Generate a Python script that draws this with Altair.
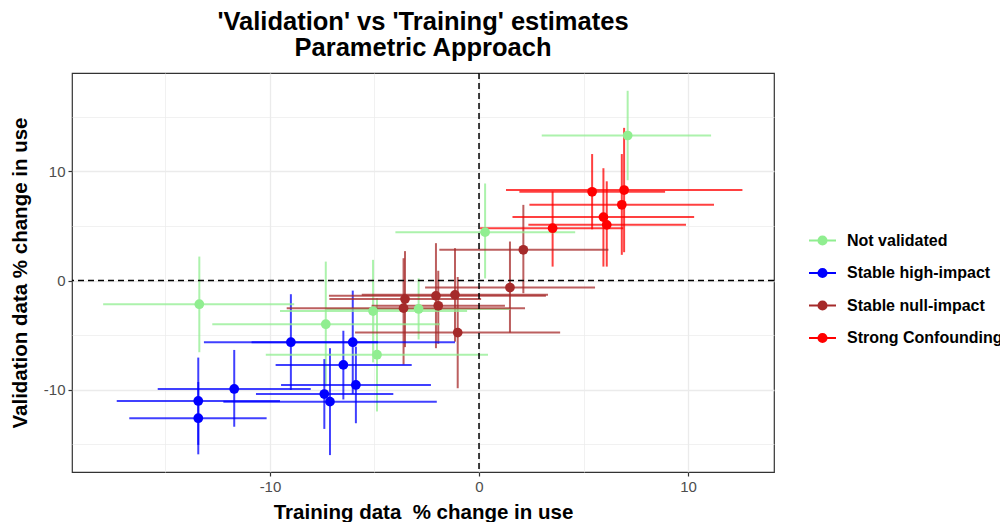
import altair as alt
import pandas as pd

groups = ["Not validated", "Stable high-impact", "Stable null-impact", "Strong Confounding"]
colors = ["#90EE90", "#0000FF", "#A52A2A", "#FF0000"]

# Not validated
nv_x = [7.11, 0.29, -13.38, -7.33, -5.07, -2.89, -4.88]
nv_y = [13.3, 4.44, -2.17, -4.0, -2.8, -2.6, -6.8]
nv_xlo = [3.0, -4.0, -17.98, -12.76, -9.52, -7.3, -10.2]
nv_xhi = [11.1, 4.6, -8.84, -1.87, -0.57, 1.5, 0.43]
nv_ylo = [9.2, 0.2, -6.57, -9.7, -7.5, -5.4, -12.0]
nv_yhi = [17.4, 8.9, 2.2, 1.74, 1.9, 0.2, -1.6]

# Stable high-impact
hi_x = [-13.43, -13.43, -11.71, -9.0, -6.04, -6.49, -5.89, -7.4, -7.13]
hi_y = [-11.04, -12.62, -9.94, -5.65, -5.65, -7.73, -9.57, -10.4, -11.1]
hi_xlo = [-17.33, -16.73, -15.37, -13.16, -10.88, -9.73, -9.47, -10.67, -12.23]
hi_xhi = [-9.52, -10.16, -8.05, -4.83, -1.15, -3.22, -2.3, -4.1, -2.02]
hi_ylo = [-15.07, -15.93, -13.4, -10.03, -10.38, -10.9, -13.08, -13.6, -16.0]
hi_yhi = [-7.06, -9.3, -6.36, -1.25, -0.92, -4.6, -6.06, -7.2, -6.2]

# Stable null-impact
nu_x = [2.12, 1.48, -3.54, -2.06, -1.15, -3.61, -1.02, -1.95]
nu_y = [2.82, -0.64, -1.70, -1.40, -1.31, -2.53, -4.77, -2.31]
nu_xlo = [-1.9, -2.58, -7.16, -7.18, -5.61, -9.2, -5.93, -5.14]
nu_xhi = [6.19, 5.55, 0.1, 3.2, 3.3, 2.2, 3.88, 1.24]
nu_ylo = [-1.16, -4.77, -6.1, -6.2, -5.6, -7.7, -9.87, -5.8]
nu_yhi = [6.94, 3.58, 2.7, 3.43, 2.97, 2.05, 0.33, 0.9]

# Strong Confounding
sc_x = [5.41, 6.94, 6.83, 5.95, 6.11, 3.52]
sc_y = [8.14, 8.3, 6.95, 5.82, 5.11, 4.8]
sc_xlo = [1.93, 1.29, 2.41, 1.6, 2.36, 0.05]
sc_xhi = [8.9, 12.6, 11.24, 10.29, 9.9, 6.9]
sc_ylo = [4.7, 2.6, 2.36, 1.28, 1.28, 1.28]
sc_yhi = [11.6, 14.0, 11.6, 10.3, 9.1, 8.17]

series = [
    (groups[0], nv_x, nv_y, nv_xlo, nv_xhi, nv_ylo, nv_yhi),
    (groups[1], hi_x, hi_y, hi_xlo, hi_xhi, hi_ylo, hi_yhi),
    (groups[2], nu_x, nu_y, nu_xlo, nu_xhi, nu_ylo, nu_yhi),
    (groups[3], sc_x, sc_y, sc_xlo, sc_xhi, sc_ylo, sc_yhi),
]
rows = []
for g, xs, ys, xl, xh, yl, yh in series:
    for i in range(len(xs)):
        rows.append(dict(group=g, x=xs[i], y=ys[i], xlo=xl[i], xhi=xh[i], ylo=yl[i], yhi=yh[i]))
df = pd.DataFrame(rows)
ref = pd.DataFrame({"zero": [0]})

FONT = "Liberation Sans"
xscale = alt.Scale(domain=[-19.47, 14.11], nice=False, zero=False)
yscale = alt.Scale(domain=[-17.55, 19.03], nice=False, zero=False)
cscale = alt.Scale(domain=groups, range=colors)

major = "datum.value % 10 === 0"

def make_axis(vals, title, tpad):
    return alt.Axis(
        values=vals,
        labelExpr="datum.value % 10 === 0 ? (datum.value + '') : ''",
        domain=False,
        tickColor=alt.condition(major, alt.value("#333333"), alt.value("transparent")),
        tickSize=4, tickWidth=1.2,
        labelFont=FONT, labelFontSize=15, labelColor="#4D4D4D", labelPadding=3,
        title=title, titleFont=FONT, titleFontSize=20.5, titleFontWeight="bold",
        titleColor="black", titlePadding=tpad,
        gridColor="#EBEBEB",
        gridWidth=alt.condition(major, alt.value(1.3), alt.value(0.7)),
    )

x_axis = make_axis([-15, -10, -5, 0, 5, 10], "Training data\u00a0 % change in use", 8)
y_axis = make_axis([-15, -10, -5, 0, 5, 10, 15], "Validation data % change in use", 13)

sym = "M-1,0L1,0M-0.3,0A0.3,0.3,0,1,1,0.3,0A0.3,0.3,0,1,1,-0.3,0Z"
leg = alt.Legend(
    title=None, orient="none", legendX=736, legendY=153, padding=0,
    symbolType=sym, symbolSize=729, symbolStrokeWidth=2, symbolOpacity=1,
    labelFont=FONT, labelFontWeight="bold", labelFontSize=16, labelColor="black",
    labelOffset=10, labelLimit=400, rowPadding=9.5,
)

base = alt.Chart(df)

hbars = base.mark_rule(strokeWidth=2, opacity=0.75).encode(
    x=alt.X("xlo:Q", scale=xscale, axis=x_axis),
    x2="xhi:Q",
    y=alt.Y("y:Q", scale=yscale, axis=y_axis),
    stroke=alt.Stroke("group:N", scale=cscale, legend=leg),
)
vbars = base.mark_rule(strokeWidth=2, opacity=0.75).encode(
    x=alt.X("x:Q", scale=xscale),
    y=alt.Y("ylo:Q", scale=yscale),
    y2="yhi:Q",
    stroke=alt.Stroke("group:N", scale=cscale, legend=leg),
)
points = base.mark_point(filled=True, size=95, opacity=1, strokeWidth=0).encode(
    x=alt.X("x:Q", scale=xscale),
    y=alt.Y("y:Q", scale=yscale),
    fill=alt.Fill("group:N", scale=cscale, legend=leg),
    stroke=alt.Stroke("group:N", scale=cscale, legend=leg),
)

vline = alt.Chart(ref).mark_rule(color="black", strokeDash=[6, 4], strokeWidth=1.5).encode(
    x=alt.X("zero:Q", scale=xscale)
)
hline = alt.Chart(ref).mark_rule(color="black", strokeDash=[6, 4], strokeWidth=1.5).encode(
    y=alt.Y("zero:Q", scale=yscale)
)

chart = alt.layer(vbars, hbars, vline, hline, points).properties(
    width=702, height=399,
    autosize=alt.AutoSizeParams(type="none"),
    padding={"left": 64, "top": 65, "right": 226, "bottom": 50},
    title=alt.TitleParams(
        text=["'Validation' vs 'Training' estimates", "Parametric Approach"],
        font=FONT, fontSize=25.5, fontWeight="bold", color="black",
        anchor="middle", lineHeight=25.5, baseline="bottom", offset=12, dy=26,
    ),
).configure(
    background="white",
    view=alt.ViewConfig(stroke="#333333", strokeWidth=1.2),
)

chart.save("out.html", embed_options={"renderer": "svg", "actions": False})
